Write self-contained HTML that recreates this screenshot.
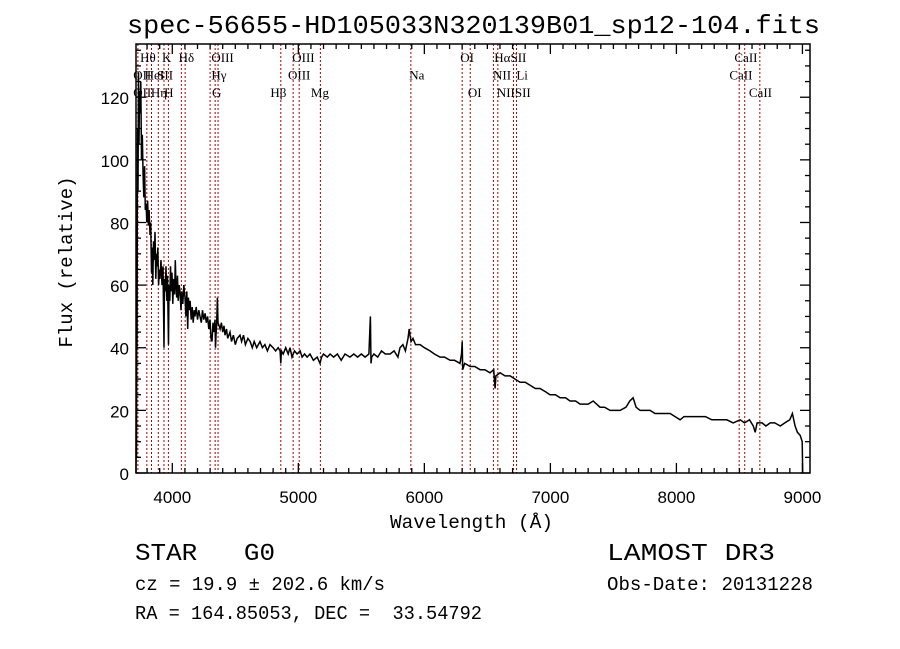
<!DOCTYPE html>
<html><head><meta charset="utf-8"><style>
html,body{margin:0;padding:0;background:#fff;}
svg{display:block;}
text{fill:#000;}
.t{font-family:"Liberation Serif",serif;}
.s{font-family:"Liberation Sans",sans-serif;}
.m{font-family:"Liberation Mono",monospace;}
</style></head><body>
<svg id="chart" width="900" height="649" viewBox="0 0 900 649" xmlns="http://www.w3.org/2000/svg">
<rect width="900" height="649" fill="#fff"/>
<text class="m" x="127" y="33" font-size="26" textLength="693" lengthAdjust="spacingAndGlyphs">spec-56655-HD105033N320139B01_sp12-104.fits</text>
<g id="lines"></g>
<g id="linelabels"></g>
<g id="ticks"></g>
<path id="spec" fill="none" stroke="#000" stroke-width="1.5" stroke-linejoin="miter"/>
<rect x="136" y="44" width="674" height="429" fill="none" stroke="#000" stroke-width="1.5"/>
<text class="m" x="390" y="528" font-size="19" textLength="163" lengthAdjust="spacingAndGlyphs">Wavelength (Å)</text>
<text class="m" transform="translate(72,262) rotate(-90)" font-size="19" text-anchor="middle">Flux (relative)</text>
<text class="m" x="135" y="560" font-size="24" textLength="140" lengthAdjust="spacingAndGlyphs" xml:space="preserve">STAR   G0</text>
<text class="m" x="135" y="590" font-size="19" textLength="250" lengthAdjust="spacingAndGlyphs">cz = 19.9 ± 202.6 km/s</text>
<text class="m" x="135" y="619" font-size="19" textLength="347" lengthAdjust="spacingAndGlyphs" xml:space="preserve">RA = 164.85053, DEC =  33.54792</text>
<text class="m" x="607" y="560" font-size="24" textLength="168" lengthAdjust="spacingAndGlyphs">LAMOST DR3</text>
<text class="m" x="607" y="590" font-size="19" textLength="206" lengthAdjust="spacingAndGlyphs">Obs-Date: 20131228</text>
</svg>
<script>
const waves=[3712,3714,3716,3718,3720,3724,3728,3732,3736,3740,3744,3750,3756,3762,3768,3774,3780,3786,3792,3798,3804,3810,3816,3823,3829,3835,3839,3845,3851,3857,3863,3869,3875,3879,3885,3891,3897,3902,3910,3918,3926,3932,3934,3938,3944,3950,3956,3962,3968,3970,3974,3980,3986,3992,3998,4004,4010,4018,4024,4029,4035,4041,4047,4055,4061,4069,4075,4083,4091,4101,4108,4115,4122,4128,4134,4141,4150,4158,4166,4174,4180,4190,4200,4210,4220,4230,4240,4250,4260,4270,4280,4290,4299,4307,4315,4323,4331,4339,4343,4347,4352,4358,4363,4371,4379,4390,4400,4410,4418,4430,4440,4458,4470,4485,4500,4515,4537,4550,4565,4580,4600,4617,4635,4650,4670,4696,4715,4735,4755,4775,4800,4820,4840,4855,4861,4866,4880,4900,4920,4934,4950,4970,4990,5014,5030,5050,5070,5093,5120,5150,5172,5185,5200,5230,5252,5280,5310,5340,5370,5410,5440,5470,5500,5530,5560,5572,5577,5582,5600,5630,5660,5690,5728,5760,5790,5807,5830,5850,5870,5880,5886,5895,5910,5930,5966,6000,6045,6080,6125,6160,6204,6240,6283,6295,6300,6304,6320,6363,6400,6442,6480,6521,6550,6561,6568,6601,6640,6680,6720,6759,6800,6839,6880,6918,6960,6997,7040,7077,7120,7156,7200,7236,7300,7340,7394,7430,7474,7520,7553,7600,7630,7656,7680,7712,7750,7791,7830,7871,7910,7950,7990,8029,8060,8100,8150,8188,8230,8280,8347,8400,8450,8506,8540,8580,8610,8625,8640,8680,8710,8744,8780,8824,8860,8900,8920,8942,8960,8982,8998,9002];
const flux=[0,30,5,60,40,110,90,128,105,122,115,125,100,108,95,88,98,84,86,80,87,79,84,76,80,64,72,60,74,68,77,62,70,66,72,60,65,62,68,60,66,48,40,62,58,66,55,63,45,41,60,55,66,58,64,54,62,57,68,60,56,63,55,60,58,52,58,54,60,56,50,58,46,56,52,55,49,53,48,52,50,53,49,52,50,48,52,49,51,48,50,46,49,43,42,48,45,49,40,44,48,56,48,47,46,48,45,47,44,46,43,45,42,44,41,43,44,42,44,41,43,42,40,42,40,42,40,41,39,41,40,39,40,39,35,39,38,40,38,40,37,39,38,39,37,38,37,38,36,37,35,37,38,37,38,37,38,36,38,37,38,37,38,37,38,50,35,37,38,37,39,38,38,39,37,40,41,39,43,46,44,42,43,41,41,40,39,38,37,37,36,36,35,38,42,33,35,34,34,33,33,32,33,27,31,32,31,31,30,29,29,28,27,27,26,25,25,24,24,23,23,22,22,23,21,21,20,20,20,21,23,24,21,20,20,20,19,19,19,19,18,17,18,18,18,18,18,17,17,17,16,17,16,17,15,13,16,16,15,16,16,15,16,17,19,15,13,12,10,0];
const lineWaves=[3727,3798,3835,3889,3934,3969,4072,4102,4300,4340,4363,4861,4959,5007,5175,5893,6300,6364,6548,6583,6707,6731,8498,8542,8662];
const labelNames=["Hθ","K","Hδ","OIII","OIII","OI","HαSII","CaII","OII","HeI","SII","Hγ","OIII","Na","NII","Li","CaII","OII","Hη","H","G","Hβ","Mg","OI","NIISII","CaII"];
const labelWaves=[3745,3918,4050,4310,4952,6285,6555,8460,3690,3780,3880,4310,4918,5880,6545,6730,8420,3690,3830,3935,4315,4778,5100,6345,6575,8575];
const labelRows=[0,0,0,0,0,0,0,0,1,1,1,1,1,1,1,1,1,2,2,2,2,2,2,2,2,2];
const xTicks=[4000,5000,6000,7000,8000,9000];
const yTicks=[0,20,40,60,80,100,120];

const NS="http://www.w3.org/2000/svg";
const X0=136,X1=810,Y0=473,Y1=44;
const WMIN=3712,WMAX=9060,FMIN=0,FMAX=137;
const xs=w=>X0+(w-WMIN)/(WMAX-WMIN)*(X1-X0);
const ys=f=>Y0-(f-FMIN)/(FMAX-FMIN)*(Y0-Y1);
function mk(tag,attrs,parent){const e=document.createElementNS(NS,tag);for(const k in attrs)e.setAttribute(k,attrs[k]);parent.appendChild(e);return e;}

let d="";
for(let i=0;i<waves.length;i++){d+=(i?"L":"M")+xs(waves[i]).toFixed(1)+" "+ys(flux[i]).toFixed(1);}
document.getElementById("spec").setAttribute("d",d);

const lg=document.getElementById("lines");
lineWaves.forEach(w=>{
  const l=mk("line",{x1:xs(w),x2:xs(w),y1:Y1,y2:Y0,stroke:"#b00000","stroke-width":1,"stroke-dasharray":"2,2"},lg);
  
  
});
const lbg=document.getElementById("linelabels");
labelNames.forEach((n,i)=>{
  const t=mk("text",{x:xs(labelWaves[i]),y:62+labelRows[i]*17.5,"font-size":13,"class":"t"},lbg);
  t.textContent=n;
  
  
});

const tg=document.getElementById("ticks");
for(let w=3800;w<=9000;w+=100){
  const major=w%1000===0, len=major?10:5, x=xs(w);
  mk("line",{x1:x,x2:x,y1:Y0,y2:Y0-len,stroke:"#000","stroke-width":1.3},tg);
  mk("line",{x1:x,x2:x,y1:Y1,y2:Y1+len,stroke:"#000","stroke-width":1.3},tg);
}
for(let f=0;f<=135;f+=5){
  const major=f%20===0, len=major?10:5, y=ys(f);
  mk("line",{x1:X0,x2:X0+len,y1:y,y2:y,stroke:"#000","stroke-width":1.3},tg);
  mk("line",{x1:X1,x2:X1-len,y1:y,y2:y,stroke:"#000","stroke-width":1.3},tg);
}
xTicks.forEach(w=>{
  const t=mk("text",{x:xs(w),y:503,"font-size":17,"text-anchor":"middle","class":"s"},tg);
  t.textContent=w;
  
  
});
yTicks.forEach(f=>{
  const t=mk("text",{x:129,y:ys(f)+7,"font-size":17,"text-anchor":"end","class":"s"},tg);
  t.textContent=f;
  
  
});
</script>
</body></html>
